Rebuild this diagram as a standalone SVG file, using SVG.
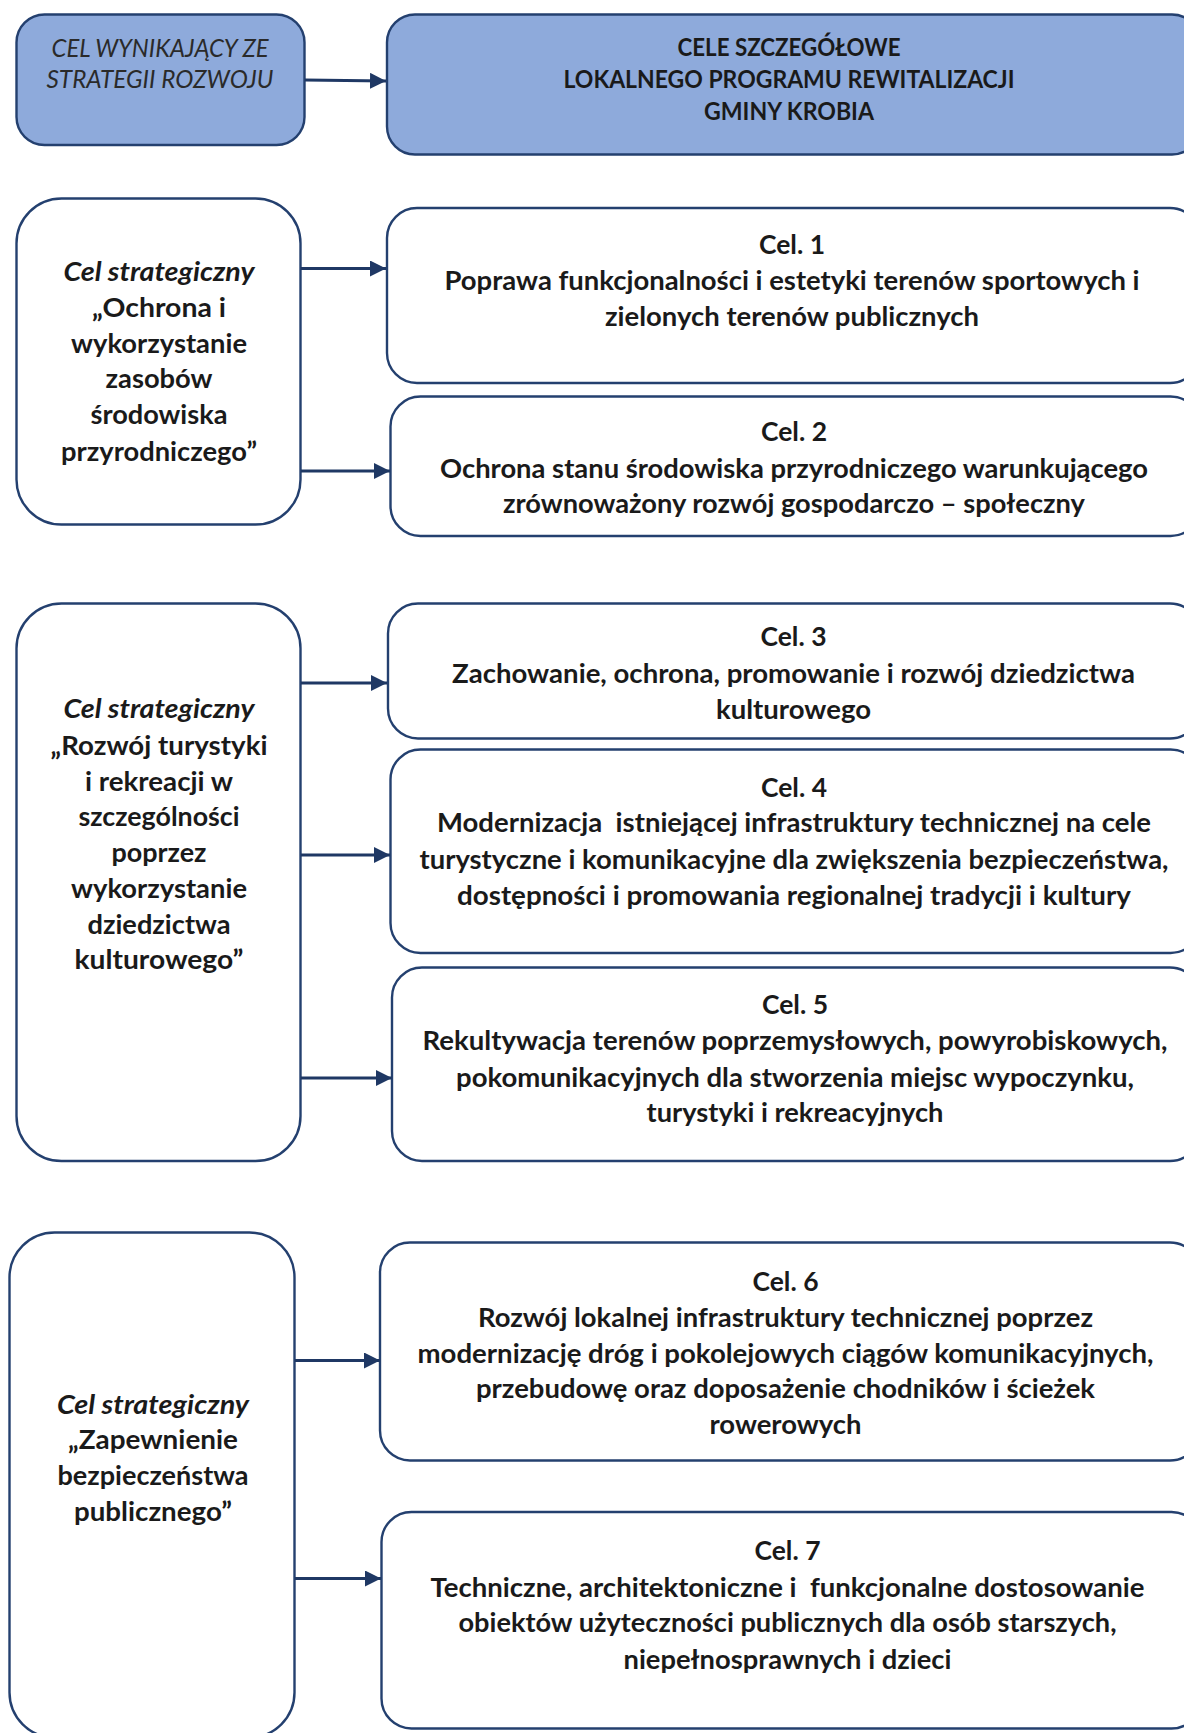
<svg xmlns="http://www.w3.org/2000/svg" width="1184" height="1733" viewBox="0 0 1184 1733">
<defs>
<style>
.box{fill:#ffffff;stroke:#24406f;stroke-width:2.4}
.hdr{fill:#8eaadb;stroke:#24406f;stroke-width:2.4}
.t{font-family:Lato,"Liberation Sans",sans-serif;font-size:26px;font-weight:bold;fill:#1a1a1a;text-anchor:middle;white-space:pre}
.it{font-style:italic}
.h1{font-family:Lato,"Liberation Sans",sans-serif;font-size:25px;font-style:italic;fill:#2a2a2a;text-anchor:middle}
.h2{font-family:Lato,"Liberation Sans",sans-serif;font-size:25px;font-weight:bold;fill:#1a1a1a;text-anchor:middle}
.arr{stroke:#1f3864;stroke-width:2.8;fill:none;marker-end:url(#ah)}
</style>
<marker id="ah" markerUnits="userSpaceOnUse" markerWidth="16" markerHeight="16" viewBox="0 0 16 16" refX="16" refY="8" orient="auto">
<path d="M0,0 L16,8 L0,16 z" fill="#1f3864"/>
</marker>
</defs>

<g id="hdr-left">
<rect class="hdr" x="16.5" y="14.5" width="288" height="130.5" rx="28"/>
<text class="h1" x="160" y="57" textLength="217" lengthAdjust="spacingAndGlyphs">CEL WYNIKAJĄCY ZE</text>
<text class="h1" x="160" y="88" textLength="227" lengthAdjust="spacingAndGlyphs">STRATEGII ROZWOJU</text>
</g>

<g id="hdr-right">
<rect class="hdr" x="387" y="14.5" width="813" height="140" rx="28"/>
<text class="h2" x="789" y="56" textLength="223" lengthAdjust="spacingAndGlyphs">CELE SZCZEGÓŁOWE</text>
<text class="h2" x="789" y="88" textLength="451" lengthAdjust="spacingAndGlyphs">LOKALNEGO PROGRAMU REWITALIZACJI</text>
<text class="h2" x="789" y="120" textLength="170" lengthAdjust="spacingAndGlyphs">GMINY KROBIA</text>
</g>

<g id="strat1">
<rect class="box" x="16.5" y="198.5" width="284" height="326" rx="45"/>
<text class="t it" x="159" y="281" textLength="191" lengthAdjust="spacingAndGlyphs">Cel strategiczny</text>
<text class="t" x="159" y="317" textLength="134" lengthAdjust="spacingAndGlyphs">„Ochrona i</text>
<text class="t" x="159" y="352.5" textLength="176" lengthAdjust="spacingAndGlyphs">wykorzystanie</text>
<text class="t" x="159" y="388" textLength="107" lengthAdjust="spacingAndGlyphs">zasobów</text>
<text class="t" x="159" y="424" textLength="137" lengthAdjust="spacingAndGlyphs">środowiska</text>
<text class="t" x="159" y="461" textLength="196" lengthAdjust="spacingAndGlyphs">przyrodniczego”</text>
</g>

<g id="cel1">
<rect class="box" x="387" y="208" width="813" height="175" rx="30"/>
<text class="t" x="792" y="254" textLength="66" lengthAdjust="spacingAndGlyphs">Cel. 1</text>
<text class="t" x="792" y="290" textLength="695" lengthAdjust="spacingAndGlyphs">Poprawa funkcjonalności i estetyki terenów sportowych i</text>
<text class="t" x="792" y="326" textLength="374" lengthAdjust="spacingAndGlyphs">zielonych terenów publicznych</text>
</g>

<g id="cel2">
<rect class="box" x="390.5" y="396.5" width="810" height="139.5" rx="30"/>
<text class="t" x="794" y="441" textLength="66" lengthAdjust="spacingAndGlyphs">Cel. 2</text>
<text class="t" x="794" y="477.5" textLength="708" lengthAdjust="spacingAndGlyphs">Ochrona stanu środowiska przyrodniczego warunkującego</text>
<text class="t" x="794" y="513" textLength="582" lengthAdjust="spacingAndGlyphs">zrównoważony rozwój gospodarczo – społeczny</text>
</g>

<g id="strat2">
<rect class="box" x="16.5" y="603.5" width="284" height="557.5" rx="45"/>
<text class="t it" x="159" y="718" textLength="191" lengthAdjust="spacingAndGlyphs">Cel strategiczny</text>
<text class="t" x="159" y="754.5" textLength="217" lengthAdjust="spacingAndGlyphs">„Rozwój turystyki</text>
<text class="t" x="159" y="791" textLength="148" lengthAdjust="spacingAndGlyphs">i rekreacji w</text>
<text class="t" x="159" y="825.5" textLength="161" lengthAdjust="spacingAndGlyphs">szczególności</text>
<text class="t" x="159" y="861.5" textLength="95" lengthAdjust="spacingAndGlyphs">poprzez</text>
<text class="t" x="159" y="898" textLength="176" lengthAdjust="spacingAndGlyphs">wykorzystanie</text>
<text class="t" x="159" y="934" textLength="143" lengthAdjust="spacingAndGlyphs">dziedzictwa</text>
<text class="t" x="159" y="969" textLength="169" lengthAdjust="spacingAndGlyphs">kulturowego”</text>
</g>

<g id="cel3">
<rect class="box" x="388" y="603.5" width="812" height="135" rx="30"/>
<text class="t" x="793.5" y="646" textLength="66" lengthAdjust="spacingAndGlyphs">Cel. 3</text>
<text class="t" x="793.5" y="683" textLength="683" lengthAdjust="spacingAndGlyphs">Zachowanie, ochrona, promowanie i rozwój dziedzictwa</text>
<text class="t" x="793.5" y="719" textLength="155" lengthAdjust="spacingAndGlyphs">kulturowego</text>
</g>

<g id="cel4">
<rect class="box" x="390.5" y="749.5" width="810" height="203.5" rx="30"/>
<text class="t" x="794" y="797" textLength="66" lengthAdjust="spacingAndGlyphs">Cel. 4</text>
<text class="t" x="794" y="832" textLength="714" lengthAdjust="spacingAndGlyphs">Modernizacja  istniejącej infrastruktury technicznej na cele</text>
<text class="t" x="794" y="868.5" textLength="749" lengthAdjust="spacingAndGlyphs">turystyczne i komunikacyjne dla zwiększenia bezpieczeństwa,</text>
<text class="t" x="794" y="905" textLength="674" lengthAdjust="spacingAndGlyphs">dostępności i promowania regionalnej tradycji i kultury</text>
</g>

<g id="cel5">
<rect class="box" x="392" y="967.5" width="808" height="193.5" rx="30"/>
<text class="t" x="795" y="1014" textLength="66" lengthAdjust="spacingAndGlyphs">Cel. 5</text>
<text class="t" x="795" y="1050" textLength="745" lengthAdjust="spacingAndGlyphs">Rekultywacja terenów poprzemysłowych, powyrobiskowych,</text>
<text class="t" x="795" y="1086.5" textLength="678" lengthAdjust="spacingAndGlyphs">pokomunikacyjnych dla stworzenia miejsc wypoczynku,</text>
<text class="t" x="795" y="1122" textLength="297" lengthAdjust="spacingAndGlyphs">turystyki i rekreacyjnych</text>
</g>

<g id="strat3">
<rect class="box" x="9.5" y="1232.5" width="285" height="505" rx="45"/>
<text class="t it" x="153" y="1413.5" textLength="192" lengthAdjust="spacingAndGlyphs">Cel strategiczny</text>
<text class="t" x="153" y="1449" textLength="170" lengthAdjust="spacingAndGlyphs">„Zapewnienie</text>
<text class="t" x="153" y="1485" textLength="191" lengthAdjust="spacingAndGlyphs">bezpieczeństwa</text>
<text class="t" x="153" y="1520.5" textLength="158" lengthAdjust="spacingAndGlyphs">publicznego”</text>
</g>

<g id="cel6">
<rect class="box" x="380" y="1242.5" width="820" height="218" rx="30"/>
<text class="t" x="785.5" y="1290.5" textLength="66" lengthAdjust="spacingAndGlyphs">Cel. 6</text>
<text class="t" x="785.5" y="1327" textLength="615" lengthAdjust="spacingAndGlyphs">Rozwój lokalnej infrastruktury technicznej poprzez</text>
<text class="t" x="785.5" y="1362.5" textLength="736" lengthAdjust="spacingAndGlyphs">modernizację dróg i pokolejowych ciągów komunikacyjnych,</text>
<text class="t" x="785.5" y="1398" textLength="619" lengthAdjust="spacingAndGlyphs">przebudowę oraz doposażenie chodników i ścieżek</text>
<text class="t" x="785.5" y="1434" textLength="152" lengthAdjust="spacingAndGlyphs">rowerowych</text>
</g>

<g id="cel7">
<rect class="box" x="381.5" y="1512" width="820" height="216.5" rx="30"/>
<text class="t" x="787.5" y="1560" textLength="66" lengthAdjust="spacingAndGlyphs">Cel. 7</text>
<text class="t" x="787.5" y="1596.5" textLength="714" lengthAdjust="spacingAndGlyphs">Techniczne, architektoniczne i  funkcjonalne dostosowanie</text>
<text class="t" x="787.5" y="1632" textLength="658" lengthAdjust="spacingAndGlyphs">obiektów użyteczności publicznych dla osób starszych,</text>
<text class="t" x="787.5" y="1668.5" textLength="328" lengthAdjust="spacingAndGlyphs">niepełnosprawnych i dzieci</text>
</g>

<g id="connectors">
<line class="arr" x1="305" y1="80" x2="386" y2="81"/>
<line class="arr" x1="301" y1="268.5" x2="386" y2="268.5"/>
<line class="arr" x1="301" y1="471" x2="390" y2="471"/>
<line class="arr" x1="301" y1="683" x2="387" y2="683"/>
<line class="arr" x1="301" y1="855" x2="390" y2="855"/>
<line class="arr" x1="301" y1="1078" x2="392" y2="1078"/>
<line class="arr" x1="295" y1="1360.5" x2="380" y2="1360.5"/>
<line class="arr" x1="295" y1="1578.5" x2="381" y2="1578.5"/>
</g>
</svg>
